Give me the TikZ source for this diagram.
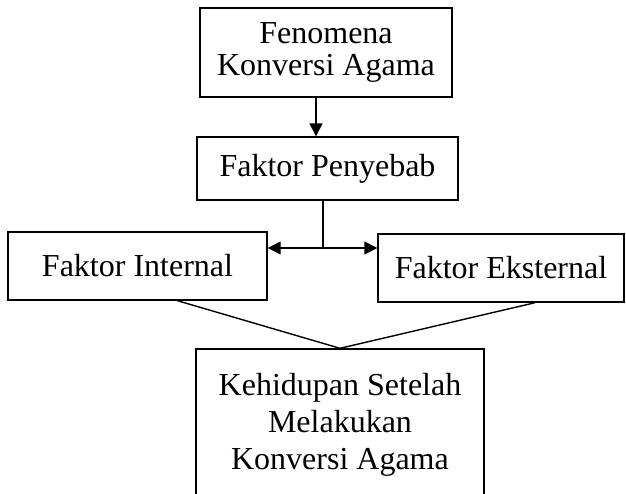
\documentclass[tikz,border=0pt]{standalone}
\usepackage{fontspec}
\setmainfont{Liberation Serif}
\usetikzlibrary{arrows.meta}
\begin{document}
\begin{tikzpicture}[x=0.5pt,y=-0.5pt]
    \tikzset{
      box/.style={draw, line width=0.7pt, inner sep=0pt, align=center,
        font=\fontsize{16}{16}\selectfont},
      link/.style={line width=0.7pt},
      tip/.style={link, -{Triangle[width=6.5pt,length=6.5pt]}}
    }
    \useasboundingbox (0,0) rectangle (626,493);
    \clip (0,0) rectangle (626,493);
    \node [box, minimum width=126pt, minimum height=44.5pt] (fenomena) at (326,52.5) {Fenomena\\Konversi Agama};
    \node [box, minimum width=130.5pt, minimum height=31.5pt] (penyebab) at (327.5,168.5) {Faktor Penyebab};
    \node [box, minimum width=129.5pt, minimum height=34pt] (internal) at (137.5,266) {Faktor Internal};
    \node [box, minimum width=123pt, minimum height=34pt] (eksternal) at (501,268) {Faktor Eksternal};
    \node [box, minimum width=144pt, minimum height=76pt, font=\fontsize{16}{18.5}\selectfont] (kehidupan) at (340,425) {Kehidupan Setelah\\Melakukan\\Konversi Agama};
    \coordinate (cabang) at (323,248);
    \draw [tip] ([xshift=-5pt]fenomena.south) -- ([xshift=-5pt]fenomena.south |- penyebab.north);
    \draw [link] (penyebab.south -| cabang) -- (cabang);
    \draw [tip] (cabang) -- (cabang -| internal.east);
    \draw [tip] (cabang) -- (cabang -| eksternal.west);
    \draw [link] ([xshift=20pt]internal.south) -- (kehidupan.north);
    \draw [link] ([xshift=17pt]eksternal.south) -- (kehidupan.north);
\end{tikzpicture}
\end{document}
